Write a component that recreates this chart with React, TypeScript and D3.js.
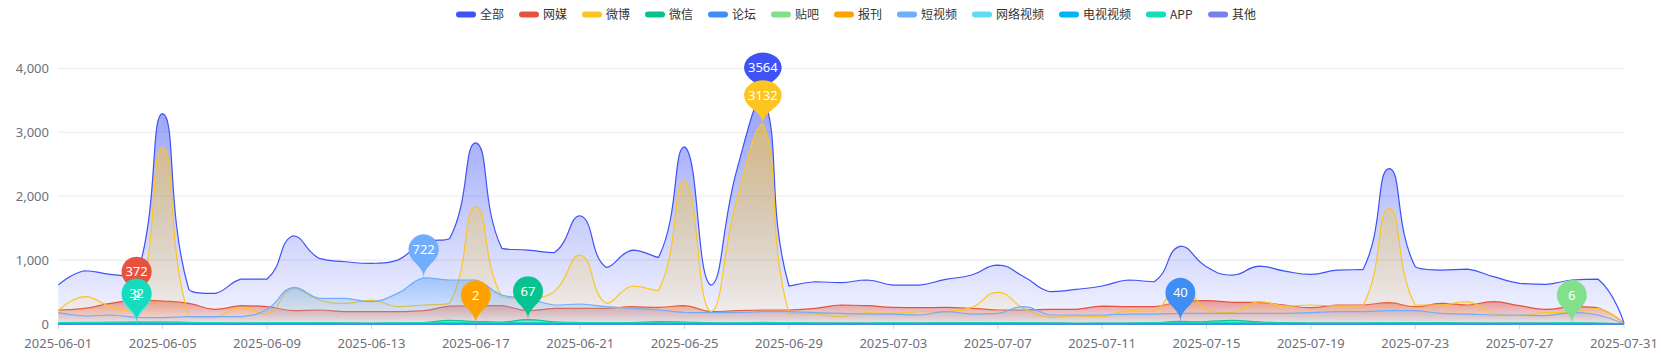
import React from 'react';
import * as d3 from 'd3';

const W = 1661;
const H = 357;

// categories: 2025-06-01 .. 2025-07-31
const dates: string[] = d3
  .utcDays(new Date(Date.UTC(2025, 5, 1)), new Date(Date.UTC(2025, 7, 1)))
  .map(d3.utcFormat('%Y-%m-%d'));

const seriesNames = ['全部', '网媒', '微博', '微信', '论坛', '贴吧', '报刊', '短视频', '网络视频', '电视视频', 'APP', '其他'];
const seriesColors = ['#3f52f6', '#e5533f', '#fdc522', '#08c38f', '#3e8ef4', '#82e08a', '#ffa200', '#70adfa', '#62dcf2', '#00b6f4', '#14dcbc', '#7a7ff0'];

const allData = [609, 833, 776, 740, 3292, 542, 479, 703, 703, 1380, 1026, 974, 948, 1000, 1286, 1339, 2833, 1182, 1156, 1115, 1693, 885, 1156, 1042, 2771, 609, 2406, 3564, 594, 661, 646, 688, 609, 609, 698, 766, 922, 740, 505, 542, 594, 688, 661, 1219, 896, 766, 906, 828, 776, 844, 854, 2432, 896, 844, 859, 740, 635, 620, 688, 703, 12];
const webData = [219, 245, 323, 372, 359, 323, 229, 286, 271, 208, 219, 193, 193, 193, 208, 281, 286, 286, 208, 245, 245, 245, 271, 260, 286, 193, 208, 219, 219, 245, 297, 286, 260, 255, 260, 245, 219, 219, 229, 229, 281, 271, 271, 349, 365, 339, 339, 297, 255, 297, 297, 333, 271, 323, 297, 349, 286, 229, 271, 255, 8];
const weiboData = [208, 427, 271, 193, 2755, 120, 104, 260, 156, 557, 375, 323, 375, 271, 297, 323, 1833, 427, 401, 505, 1078, 323, 594, 521, 2240, 193, 1950, 3132, 167, 156, 115, 177, 167, 193, 193, 260, 495, 245, 104, 125, 115, 208, 193, 620, 229, 177, 349, 281, 297, 281, 286, 1807, 297, 297, 349, 167, 135, 177, 177, 245, 3];
const wechatData = [15, 18, 20, 24, 28, 22, 16, 12, 14, 16, 18, 14, 12, 14, 20, 58, 38, 30, 67, 34, 22, 18, 20, 36, 30, 18, 14, 18, 20, 16, 14, 12, 14, 16, 18, 20, 22, 18, 15, 12, 10, 12, 16, 24, 38, 56, 34, 20, 16, 14, 15, 18, 22, 20, 16, 14, 13, 12, 15, 11, 1];
const forumData = [8, 10, 9, 12, 14, 10, 8, 7, 9, 10, 11, 9, 8, 10, 12, 14, 13, 12, 15, 13, 12, 11, 10, 12, 14, 9, 10, 12, 11, 9, 8, 10, 9, 11, 10, 12, 13, 11, 9, 8, 9, 12, 18, 40, 22, 14, 12, 11, 10, 9, 10, 12, 11, 10, 9, 8, 9, 10, 12, 8, 0];
const tiebaData = [1, 2, 1, 2, 3, 2, 1, 0, 1, 2, 1, 2, 1, 0, 1, 2, 3, 2, 1, 2, 1, 0, 1, 2, 1, 2, 3, 2, 1, 0, 1, 2, 1, 1, 2, 3, 2, 1, 0, 1, 2, 1, 2, 3, 2, 1, 2, 1, 0, 1, 2, 1, 2, 3, 2, 1, 2, 3, 6, 2, 0];
const paperData = [0, 1, 0, 0, 1, 0, 0, 1, 0, 0, 1, 0, 0, 1, 0, 1, 2, 0, 1, 0, 0, 1, 0, 0, 1, 0, 0, 1, 0, 1, 0, 0, 1, 0, 0, 1, 0, 0, 1, 0, 0, 1, 0, 1, 0, 0, 1, 0, 0, 1, 0, 0, 1, 0, 0, 1, 0, 0, 1, 0, 0];
const shortVideoData = [177, 125, 141, 104, 99, 115, 115, 115, 230, 573, 401, 401, 349, 479, 722, 688, 688, 453, 401, 297, 313, 271, 245, 219, 182, 177, 177, 193, 193, 177, 167, 156, 156, 141, 193, 156, 167, 271, 141, 141, 141, 156, 156, 167, 167, 167, 167, 167, 177, 193, 193, 208, 208, 167, 156, 141, 141, 130, 177, 141, 1];
const netVideoData = [1, 0, 1, 2, 1, 0, 0, 1, 0, 0, 1, 0, 0, 1, 0, 0, 1, 0, 0, 1, 0, 0, 1, 0, 0, 1, 0, 0, 1, 0, 0, 1, 0, 0, 1, 0, 0, 1, 0, 0, 1, 0, 0, 1, 0, 0, 1, 0, 0, 1, 0, 0, 1, 0, 0, 1, 0, 0, 1, 0, 0];
const tvVideoData = [0, 0, 0, 0, 0, 0, 0, 0, 0, 0, 0, 0, 0, 0, 0, 0, 0, 0, 0, 0, 0, 0, 0, 0, 0, 0, 0, 0, 0, 0, 0, 0, 0, 0, 0, 0, 0, 0, 0, 0, 0, 0, 0, 0, 0, 0, 0, 0, 0, 0, 0, 0, 0, 0, 0, 0, 0, 0, 0, 0, 0];
const appData = [22, 25, 28, 32, 30, 26, 20, 18, 20, 22, 18, 16, 15, 17, 20, 22, 24, 20, 22, 25, 20, 18, 16, 18, 22, 15, 18, 24, 20, 16, 14, 16, 18, 15, 14, 17, 20, 18, 14, 12, 13, 15, 18, 24, 26, 22, 18, 16, 15, 14, 16, 20, 18, 15, 14, 13, 12, 15, 18, 14, 1];
const otherData = [0, 0, 0, 0, 0, 0, 0, 0, 0, 0, 0, 0, 0, 0, 0, 0, 0, 0, 0, 0, 0, 0, 0, 0, 0, 0, 0, 0, 0, 0, 0, 0, 0, 0, 0, 0, 0, 0, 0, 0, 0, 0, 0, 0, 0, 0, 0, 0, 0, 0, 0, 0, 0, 0, 0, 0, 0, 0, 0, 0, 0];

const seriesData = [allData, webData, weiboData, wechatData, forumData, tiebaData, paperData, shortVideoData, netVideoData, tvVideoData, appData, otherData];

const yTicks = [0, 1000, 2000, 3000, 4000];

const PLOT = { left: 58.3, right: 1624, top: 68.3, bottom: 324 };

// ECharts-like smooth path
function smoothPath(pts: [number, number][], smooth = 0.5): string {
  if (!pts.length) return '';
  let d = `M${pts[0][0]},${pts[0][1]}`;
  let cpx0 = pts[0][0];
  let cpy0 = pts[0][1];
  for (let i = 1; i < pts.length; i++) {
    const [x, y] = pts[i];
    const [px, py] = pts[i - 1];
    let vx = 0, vy = 0, ratio = 0.5;
    let ncx: number, ncy: number;
    if (i === pts.length - 1) {
      ncx = x; ncy = y;
    } else {
      const [nx, ny] = pts[i + 1];
      vx = nx - px; vy = ny - py;
      const l0 = Math.hypot(x - px, y - py);
      const l1 = Math.hypot(nx - x, ny - y);
      ratio = l0 + l1 === 0 ? 0.5 : l1 / (l0 + l1);
      ncx = x - vx * smooth * (1 - ratio);
      ncy = y - vy * smooth * (1 - ratio);
    }
    const lo = Math.min(py, y), hi = Math.max(py, y);
    const c0y = Math.max(lo, Math.min(hi, cpy0));
    const c1y = Math.max(lo, Math.min(hi, ncy));
    d += `C${cpx0},${c0y},${ncx},${c1y},${x},${y}`;
    cpx0 = x + vx * smooth * ratio;
    cpy0 = y + vy * smooth * ratio;
  }
  return d;
}

// ECharts pin symbol, tip at (0,0)
function pinPath(size = 50): string {
  const w = (size / 5) * 3;
  const h = Math.max(w, size);
  const r = w / 2;
  const dy = (r * r) / (h - r);
  const x = 0, y = 0;
  const cy = y - h + r + dy;
  const angle = Math.asin(dy / r);
  const dx = Math.cos(angle) * r;
  const tanX = Math.sin(angle);
  const tanY = Math.cos(angle);
  const cpLen = r * 0.6;
  const cpLen2 = r * 0.7;
  const p = d3.path();
  p.moveTo(x - dx, cy + dy);
  p.arc(x, cy, r, Math.PI - angle, Math.PI * 2 + angle);
  p.bezierCurveTo(x + dx - tanX * cpLen, cy + dy + tanY * cpLen, x, y - cpLen2, x, y);
  p.bezierCurveTo(x, y - cpLen2, x - dx + tanX * cpLen, cy + dy + tanY * cpLen, x - dx, cy + dy);
  p.closePath();
  return p.toString();
}
const PIN_SIZE = 50;
const PIN_HEAD_OFFSET = (() => {
  const w = (PIN_SIZE / 5) * 3; const r = w / 2; const h = PIN_SIZE;
  const dy = (r * r) / (h - r);
  return h - r - dy;
})();

const FONT = '"Noto Sans", "Noto Sans CJK SC", sans-serif';
const CJK = '"Noto Sans CJK SC", "Noto Sans", sans-serif';

function textW(s: string, cjkSize: number, latinW: number) {
  let w = 0;
  for (const ch of s) w += /[\u4e00-\u9fff]/.test(ch) ? cjkSize : latinW;
  return w;
}

export default function App() {
  const x = d3.scalePoint<string>().domain(dates).range([PLOT.left, PLOT.right]);
  const y = d3.scaleLinear().domain([0, 4000]).range([PLOT.bottom, PLOT.top]);
  const fmt = d3.format(',');

  const series = seriesData.map((data, si) => {
    const pts: [number, number][] = data.map((v, i) => [x(dates[i]) as number, y(v)]);
    const line = smoothPath(pts);
    const area = `${line}L${pts[pts.length - 1][0]},${y(0)}L${pts[0][0]},${y(0)}Z`;
    return { si, line, area, color: seriesColors[si], name: seriesNames[si] };
  });

  const markers = seriesData
    .map((data, si) => {
      const max = d3.max(data) as number;
      if (!max) return null;
      const idx = data.indexOf(max);
      const label = String(max);
      const lw = label.length * 7.4;
      const sx = Math.max(1, (lw + 8) / ((PIN_SIZE / 5) * 3));
      return { si, x: x(dates[idx]) as number, y: y(max), label, sx, color: seriesColors[si] };
    })
    .filter(Boolean) as { si: number; x: number; y: number; label: string; sx: number; color: string }[];

  // legend layout
  let lx = 456;
  const legend = seriesNames.map((name, i) => {
    const tw = textW(name, 12, 7.7);
    const item = { name, color: seriesColors[i], x: lx, tw };
    lx += 20 + 4 + tw + 15;
    return item;
  });

  const pin = pinPath(PIN_SIZE);

  return (
    <svg width={W} height={H} style={{ position: 'absolute', left: 0, top: 0, background: '#fff' }}>
      <defs>
        {series.map((s) => (
          <linearGradient key={s.si} id={`grad${s.si}`} x1="0" y1="0" x2="0" y2="1">
            <stop offset="0%" stopColor={s.color} stopOpacity={0.55} />
            <stop offset="100%" stopColor={s.color} stopOpacity={0.06} />
          </linearGradient>
        ))}
      </defs>

      {/* legend */}
      <g>
        {legend.map((l) => (
          <g key={l.name}>
            <rect x={l.x} y={11.5} width={20} height={6} rx={3} fill={l.color} />
            <text x={l.x + 24} y={18.8} fontSize={12} fontFamily={CJK} fill="#333">{l.name}</text>
          </g>
        ))}
      </g>

      {/* grid lines */}
      {yTicks.map((t) => (
        <line key={t} x1={PLOT.left} x2={PLOT.right} y1={y(t)} y2={y(t)} stroke="#e9e9e9" strokeWidth={1} />
      ))}
      {/* y labels */}
      {yTicks.map((t) => (
        <text key={t} x={49} y={y(t) + 4.5} textAnchor="end" fontSize={13} fontFamily={FONT} fill="#6e7079">{fmt(t)}</text>
      ))}

      {/* x ticks */}
      {dates.map((d, i) => (i % 4 === 0 ? (
        <g key={d}>
          <line x1={x(d)} x2={x(d)} y1={PLOT.bottom} y2={PLOT.bottom + 5} stroke="#cfd3dc" strokeWidth={1} />
          <text x={x(d)} y={347.5} textAnchor="middle" fontSize={13} fontFamily={FONT} fill="#6e7079">{d}</text>
        </g>
      ) : null))}

      {/* series */}
      {series.map((s) => (
        <g key={s.si}>
          <path d={s.area} fill={`url(#grad${s.si})`} stroke="none" />
          <path d={s.line} fill="none" stroke={s.color} strokeWidth={1.2} />
        </g>
      ))}

      {/* axis baseline */}
      <line x1={PLOT.left} x2={PLOT.right} y1={PLOT.bottom} y2={PLOT.bottom} stroke="#4a90e2" strokeWidth={2} />

      {/* markers */}
      {markers.map((m) => (
        <path key={`p${m.si}`} d={pin} transform={`translate(${m.x},${m.y}) scale(${m.sx},1)`} fill={m.color} />
      ))}
      {markers.map((m) => (
        <text key={`t${m.si}`} x={m.x} y={m.y - PIN_HEAD_OFFSET + 4.6} textAnchor="middle" fontSize={13} fontFamily={FONT} fill="#fff">{m.label}</text>
      ))}
    </svg>
  );
}
